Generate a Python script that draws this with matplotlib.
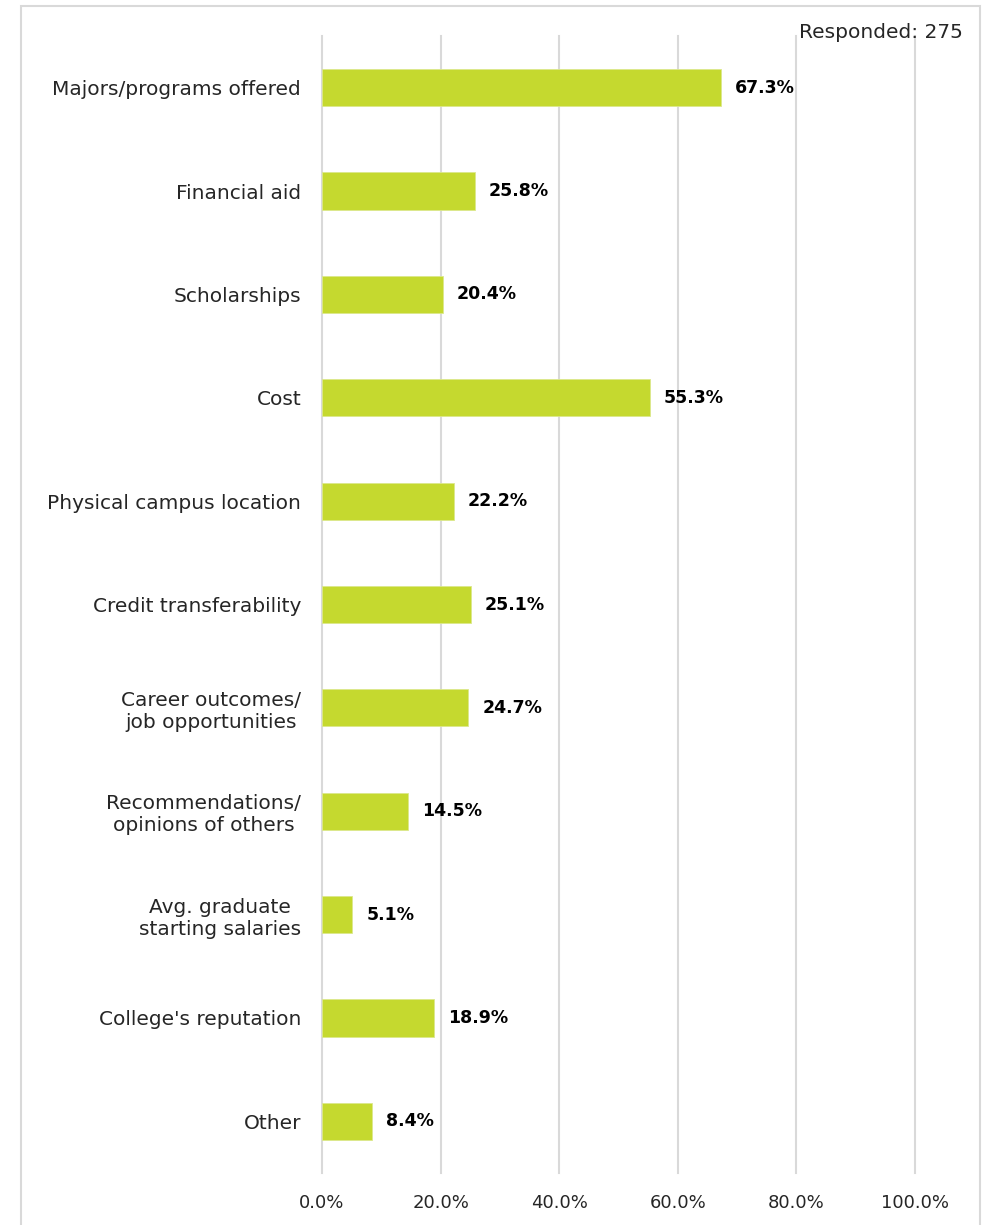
import matplotlib.pyplot as plt
from matplotlib.patches import Rectangle

categories = ['Majors/programs offered', 'Financial aid', 'Scholarships', 'Cost',
              'Physical campus location', 'Credit transferability',
              'Career outcomes/\njob opportunities', 'Recommendations/\nopinions of others',
              'Avg. graduate\nstarting salaries', "College's reputation", 'Other']
values = [67.3, 25.8, 20.4, 55.3, 22.2, 25.1, 24.7, 14.5, 5.1, 18.9, 8.4]
xticks = [0, 20, 40, 60, 80, 100]
responded = 275

bar_color = '#C5D92F'
grid_color = '#D9D9D9'
text_color = '#262626'

plt.rcParams['font.family'] = ['DejaVu Sans']

fig = plt.figure(figsize=(9.94, 12.25), dpi=100)
# light frame round the whole chart, open at the bottom
fig.patches.append(Rectangle((21 / 994, -0.05), (980 - 21) / 994, 1.05 - 6 / 1225,
                             transform=fig.transFigure, fill=False,
                             edgecolor=grid_color, linewidth=1.5))

ax = fig.add_axes([322 / 994, 52 / 1225, 593 / 994, 1137 / 1225])

ypos = list(range(len(categories)))
ax.barh(ypos, values, height=0.36, color=bar_color, edgecolor='#DCE88C', linewidth=0.6, zorder=3)

## value labels in bold just past each bar end
for y, v in zip(ypos, values):
    ax.annotate(f'{v:.1f}%', (v, y), xytext=(14, 0), textcoords='offset pixels',
                ha='left', va='center', fontsize=12.5, fontweight='bold', color='black')

ax.set_xlim(0, 100)
ax.set_ylim(len(categories) - 0.5, -0.5)
ax.set_xticks(xticks)
ax.set_xticklabels([f'{t:.1f}%' for t in xticks])
ax.set_yticks(ypos)
ax.set_yticklabels(categories)
for lbl in ax.get_yticklabels():
    lbl.set_multialignment('center')
    lbl.set_linespacing(1.2)

ax.tick_params(axis='both', length=0, colors=text_color)
ax.tick_params(axis='x', pad=15, labelsize=13)
ax.tick_params(axis='y', pad=15, labelsize=14.5)
ax.grid(axis='x', color=grid_color, linewidth=1.5, zorder=0)
for gl in ax.get_xgridlines():
    gl.set_clip_on(False)
ax.set_axisbelow(True)
for s in ax.spines.values():
    s.set_visible(False)

fig.text(963 / 994, 1 - 32 / 1225, f'Responded: {responded}', ha='right', va='center',
         fontsize=14.5, color=text_color)

fig.savefig('out.png', dpi=100)
